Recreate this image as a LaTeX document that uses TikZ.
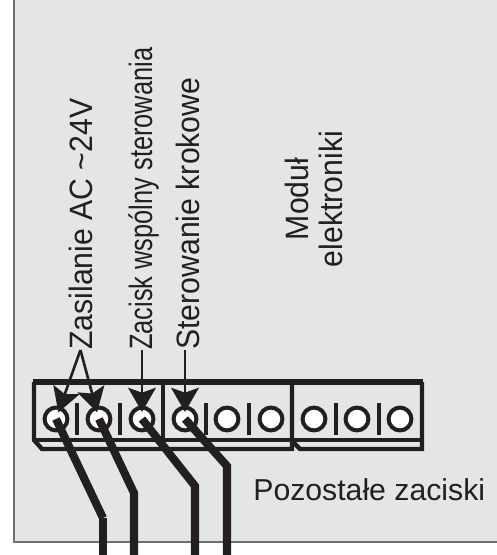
\documentclass[tikz,border=0pt]{standalone}
\usepackage{fontspec}
\setmainfont{Liberation Sans}
\usetikzlibrary{shapes,calc,positioning}
\definecolor{panelgray}{HTML}{E4E5E7}
\definecolor{edgegray}{HTML}{6D6E71}
\definecolor{inkblack}{HTML}{231F20}
\tikzset{
  label text/.style={text=inkblack,inner sep=0pt,font=\fontsize{17.2}{18.1}\selectfont},
  side label/.style={label text,rotate=90,anchor=base west,yscale=1.07},
  terminal/.style={circle,draw=inkblack,fill=white,line width=2.3pt,minimum size=13pt,inner sep=0pt},
  wire/.style={color=inkblack,line width=4.6pt,miter limit=4},
  leader/.style={color=inkblack,line width=1.5pt},
  block/.style={color=inkblack,line width=2.5pt}
}
\newcommand{\leaderline}[2]{
  \draw[leader] (#1) -- ($(#2.center)!7pt!(#1)$);
  \coordinate (tip) at ($(#2.center)!4pt!(#1)$);
  \fill[inkblack] (tip) -- ($(tip)!16pt!30:(#1)$) -- ($(tip)!11pt!(#1)$) -- ($(tip)!16pt!-30:(#1)$) -- cycle;
}
\begin{document}
\begin{tikzpicture}[x=0.02cm,y=-0.02cm]
\useasboundingbox (0,0) rectangle (497,555);
\fill[panelgray] (14,0) rectangle (497,542);
\draw[edgegray,line width=1.1pt] (14,0) -- (14,542) -- (497,542);

\draw[block] (292,441) -- (300,449) -- (422,449) -- (422,382);
\draw[block] (34,382) -- (34,440) -- (42,449) -- (292,449) -- (292,382);
\draw[block] (34,440) -- (422,440);
\draw[block] (163,382) -- (163,440);
\draw[inkblack,line width=3.9pt] (33,382) -- (423,382);

\foreach \x in {77,120,206,249,336,379}
  \draw[inkblack,line width=2.6pt] (\x,403) -- (\x,435);

\foreach \n/\x in {1/56,2/99,3/142,4/185,5/227,6/271,7/314,8/357,9/400}
  \node[terminal] (t\n) at (\x,419) {};

\node[side label] (zasilanie) at (92,350) {Zasilanie AC \textasciitilde24V};
\node[side label,xscale=0.84] (zacisk) at (152,350) {Zacisk wspólny sterowania};
\node[side label] (sterowanie) at (199,350) {Sterowanie krokowe};
\node[label text,rotate=90,align=center,yscale=1.07] (modul) at (314,199) {Moduł\\elektroniki};
\node[label text,anchor=base west] (pozostale) at (253,500) {Pozostałe zaciski};

\coordinate (b1) at (103,518);
\coordinate (e1) at (103,555);
\coordinate (b2) at (134,493);
\coordinate (e2) at (134,555);
\coordinate (b3) at (195,486);
\coordinate (e3) at (195,555);
\coordinate (b4) at (227,466);
\coordinate (e4) at (227,555);

\draw[wire] (t1.center) -- (b1);
\draw[wire] (b1) -- (e1);
\draw[wire] (t2.center) -- (b2) -- (e2);
\draw[wire] (t3.center) -- (b3) -- (e3);
\draw[wire] (t4.center) -- (b4) -- (e4);

\coordinate (s3) at (zacisk.west -| t3);
\coordinate (s4) at (sterowanie.west -| t4);
\leaderline{zasilanie.west}{t1}
\leaderline{zasilanie.west}{t2}
\leaderline{s3}{t3}
\leaderline{s4}{t4}
\end{tikzpicture}
\end{document}
